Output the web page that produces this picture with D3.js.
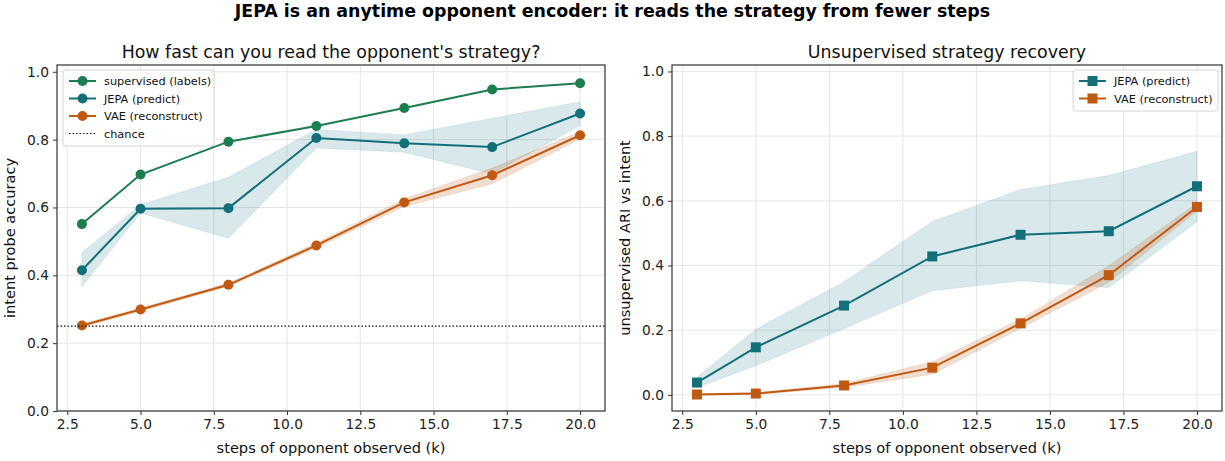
<!DOCTYPE html>
<html>
<head>
<meta charset="utf-8">
<script src="https://cdn.jsdelivr.net/npm/d3@7"></script>
<style>
  body { margin: 0; background: #fff; }
  svg { font-family: "DejaVu Sans", sans-serif; }
</style>
</head>
<body>
<svg id="chart" width="1225" height="461"></svg>
<script>
// ---- data ----
const steps = [3, 5, 8, 11, 14, 17, 20];

// probe accuracy
const supervisedAcc = [0.551, 0.697, 0.794, 0.840, 0.893, 0.948, 0.966];
const jepaAcc       = [0.415, 0.596, 0.598, 0.805, 0.789, 0.778, 0.877];
const jepaAccLo     = [0.366, 0.584, 0.509, 0.775, 0.763, 0.699, 0.842];
const jepaAccHi     = [0.467, 0.608, 0.689, 0.830, 0.814, 0.863, 0.912];
const vaeAcc        = [0.252, 0.299, 0.372, 0.488, 0.615, 0.695, 0.813];
const vaeAccLo      = [0.247, 0.294, 0.367, 0.481, 0.603, 0.670, 0.802];
const vaeAccHi      = [0.257, 0.304, 0.377, 0.495, 0.626, 0.716, 0.823];
const chanceLevel = 0.25;

// unsupervised ARI
const jepaAri   = [0.038, 0.147, 0.276, 0.428, 0.495, 0.506, 0.645];
const jepaAriLo = [0.023, 0.090, 0.205, 0.322, 0.353, 0.332, 0.535];
const jepaAriHi = [0.054, 0.203, 0.350, 0.536, 0.635, 0.678, 0.753];
const vaeAri    = [0.001, 0.004, 0.029, 0.084, 0.221, 0.370, 0.581];
const vaeAriLo  = [0.000, 0.001, 0.023, 0.064, 0.205, 0.348, 0.569];
const vaeAriHi  = [0.003, 0.007, 0.035, 0.102, 0.234, 0.399, 0.593];

const xTicks = [2.5, 5.0, 7.5, 10.0, 12.5, 15.0, 17.5, 20.0];
const yTicks = [0.0, 0.2, 0.4, 0.6, 0.8, 1.0];

const C_SUP = "#1c7d4e", C_JEPA = "#13707b", C_VAE = "#c05a12";

const svg = d3.select("#chart");

svg.append("text")
  .attr("x", 612.5).attr("y", 17)
  .attr("text-anchor", "middle")
  .attr("font-size", 17.4).attr("font-weight", "bold")
  .text("JEPA is an anytime opponent encoder: it reads the strategy from fewer steps");

function panel(opts) {
  const { left, right, top, bottom, yDomain, title, ylabel } = opts;
  const g = svg.append("g");
  const x = d3.scaleLinear().domain([2.15, 20.85]).range([left, right]);
  const y = d3.scaleLinear().domain(yDomain).range([bottom, top]);

  // grid
  g.append("g").selectAll("line.gx").data(xTicks).join("line")
    .attr("x1", d => x(d)).attr("x2", d => x(d))
    .attr("y1", top).attr("y2", bottom)
    .attr("stroke", "#e6e6e6").attr("stroke-width", 1);
  g.append("g").selectAll("line.gy").data(yTicks).join("line")
    .attr("x1", left).attr("x2", right)
    .attr("y1", d => y(d)).attr("y2", d => y(d))
    .attr("stroke", "#e6e6e6").attr("stroke-width", 1);

  // axes
  const xAxis = g.append("g").attr("transform", `translate(0,${bottom})`)
    .call(d3.axisBottom(x).tickValues(xTicks).tickFormat(d3.format(".1f")).tickSize(4).tickPadding(4));
  const yAxis = g.append("g").attr("transform", `translate(${left},0)`)
    .call(d3.axisLeft(y).tickValues(yTicks).tickFormat(d3.format(".1f")).tickSize(4).tickPadding(4));
  [xAxis, yAxis].forEach(a => {
    a.select(".domain").remove();
    a.selectAll("text").attr("font-size", 13.8).attr("fill", "#222").attr("font-family", "DejaVu Sans");
    a.selectAll("line").attr("stroke", "#333");
  });

  g.append("text").attr("x", (left + right) / 2).attr("y", 58)
    .attr("text-anchor", "middle").attr("font-size", 17.4).attr("fill", "#111").text(title);
  g.append("text").attr("x", (left + right) / 2).attr("y", 453)
    .attr("text-anchor", "middle").attr("font-size", 14.6).attr("fill", "#111")
    .text("steps of opponent observed (k)");
  g.append("text")
    .attr("transform", `translate(${left - 42},${(top + bottom) / 2}) rotate(-90)`)
    .attr("text-anchor", "middle").attr("font-size", 14.6).attr("fill", "#111").text(ylabel);

  const content = g.append("g");
  return { g, content, x, y, left, right, top, bottom };
}

function band(p, lo, hi, color, alpha) {
  const area = d3.area().x((d, i) => p.x(steps[i])).y0((d, i) => p.y(lo[i])).y1((d, i) => p.y(hi[i]));
  p.content.append("path").datum(lo).attr("d", area)
    .attr("fill", color).attr("fill-opacity", alpha).attr("stroke", color).attr("stroke-opacity", alpha * 0.6);
}

function series(p, vals, color, marker) {
  const line = d3.line().x((d, i) => p.x(steps[i])).y(d => p.y(d));
  p.content.append("path").datum(vals).attr("d", line)
    .attr("fill", "none").attr("stroke", color).attr("stroke-width", 2);
  if (marker === "circle") {
    p.content.selectAll(null).data(vals).join("circle")
      .attr("cx", (d, i) => p.x(steps[i])).attr("cy", d => p.y(d)).attr("r", 5)
      .attr("fill", color);
  } else {
    p.content.selectAll(null).data(vals).join("rect")
      .attr("x", (d, i) => p.x(steps[i]) - 5).attr("y", d => p.y(d) - 5)
      .attr("width", 10).attr("height", 10).attr("fill", color);
  }
}

function frame(p) {
  p.g.append("rect").attr("x", p.left).attr("y", p.top)
    .attr("width", p.right - p.left).attr("height", p.bottom - p.top)
    .attr("fill", "none").attr("stroke", "#333").attr("stroke-width", 1.2);
}

function legend(p, x0, y0, w, items) {
  const rowH = 17.5;
  const lg = p.g.append("g").attr("transform", `translate(${x0},${y0})`);
  lg.append("rect").attr("width", w).attr("height", items.length * rowH + 6)
    .attr("rx", 3).attr("fill", "#fff").attr("fill-opacity", 0.85)
    .attr("stroke", "#d6d6d6");
  items.forEach((it, i) => {
    const cy = 11 + i * rowH;
    const row = lg.append("g");
    if (it.dotted) {
      row.append("line").attr("x1", 6).attr("x2", 33).attr("y1", cy).attr("y2", cy)
        .attr("stroke", "#111").attr("stroke-width", 1.2).attr("stroke-dasharray", "1.5,2");
    } else {
      row.append("line").attr("x1", 6).attr("x2", 33).attr("y1", cy).attr("y2", cy)
        .attr("stroke", it.color).attr("stroke-width", 2);
      if (it.marker === "circle") {
        row.append("circle").attr("cx", 19.5).attr("cy", cy).attr("r", 5).attr("fill", it.color);
      } else {
        row.append("rect").attr("x", 14.5).attr("y", cy - 5).attr("width", 10).attr("height", 10).attr("fill", it.color);
      }
    }
    row.append("text").attr("x", 41).attr("y", cy + 4).attr("font-size", 11.3).attr("fill", "#111").text(it.label);
  });
}

// left panel: probe accuracy
const pL = panel({ left: 57, right: 605, top: 65, bottom: 411, yDomain: [0, 1.02],
  title: "How fast can you read the opponent's strategy?", ylabel: "intent probe accuracy" });
band(pL, jepaAccLo, jepaAccHi, C_JEPA, 0.16);
band(pL, vaeAccLo, vaeAccHi, C_VAE, 0.2);
series(pL, supervisedAcc, C_SUP, "circle");
series(pL, jepaAcc, C_JEPA, "circle");
series(pL, vaeAcc, C_VAE, "circle");
pL.content.append("line")
  .attr("x1", pL.left).attr("x2", pL.right)
  .attr("y1", pL.y(chanceLevel)).attr("y2", pL.y(chanceLevel))
  .attr("stroke", "#111").attr("stroke-width", 1.2).attr("stroke-dasharray", "1.5,2");
frame(pL);
legend(pL, 63, 70, 151, [
  { label: "supervised (labels)", color: C_SUP, marker: "circle" },
  { label: "JEPA (predict)", color: C_JEPA, marker: "circle" },
  { label: "VAE (reconstruct)", color: C_VAE, marker: "circle" },
  { label: "chance", dotted: true }
]);

// right panel: unsupervised ARI
const pR = panel({ left: 672, right: 1222, top: 65, bottom: 411, yDomain: [-0.05, 1.02],
  title: "Unsupervised strategy recovery", ylabel: "unsupervised ARI vs intent" });
band(pR, jepaAriLo, jepaAriHi, C_JEPA, 0.16);
band(pR, vaeAriLo, vaeAriHi, C_VAE, 0.2);
series(pR, jepaAri, C_JEPA, "square");
series(pR, vaeAri, C_VAE, "square");
frame(pR);
legend(pR, 1073, 70, 145, [
  { label: "JEPA (predict)", color: C_JEPA, marker: "square" },
  { label: "VAE (reconstruct)", color: C_VAE, marker: "square" }
]);
</script>
</body>
</html>
